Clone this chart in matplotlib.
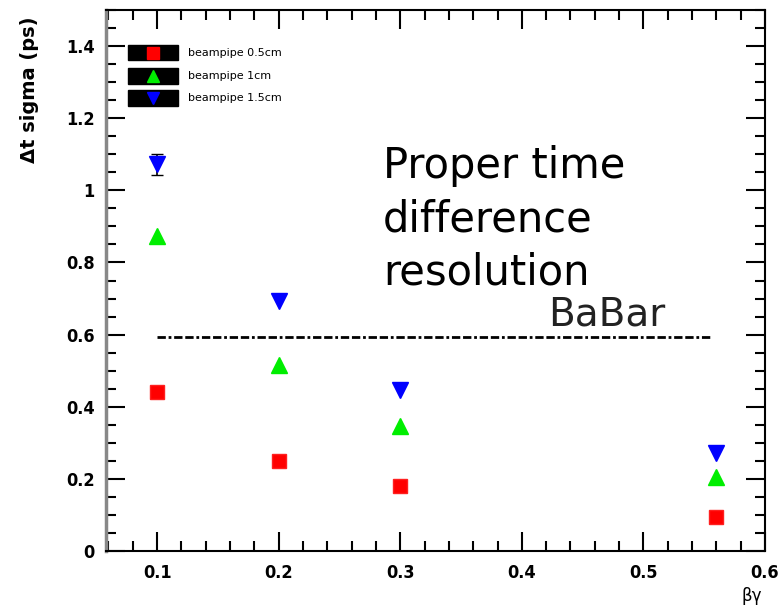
import numpy as np
import matplotlib
matplotlib.use("Agg")
import matplotlib.pyplot as plt
from matplotlib.ticker import MultipleLocator

# data
bg = [0.1, 0.2, 0.3, 0.56]
sig_05 = [0.442, 0.25, 0.18, 0.094]
sig_10 = [0.872, 0.517, 0.347, 0.205]
sig_15 = [1.072, 0.694, 0.447, 0.272]
err_15_lo = 0.03   # only the first point has a visible error bar
err_15_hi = 0.028
labels = ["beampipe 0.5cm", "beampipe 1cm", "beampipe 1.5cm"]
babar = 0.592
babar_x = [0.1, 0.556]

fig = plt.figure(figsize=(7.83, 6.09), dpi=100)
ax = fig.add_axes([106 / 783, 1 - 551 / 609, (765 - 106) / 783, (551 - 10) / 609])

ax.errorbar(bg[:1], sig_15[:1], yerr=[[err_15_lo], [err_15_hi]], fmt="none",
            ecolor="black", elinewidth=1.2, capsize=4, zorder=2)
ax.plot(bg, sig_05, "s", color="#ff0000", ms=10, mec="#ff2020", zorder=3)
ax.plot(bg, sig_10, "^", color="#00ee00", ms=11, zorder=3)
ax.plot(bg, sig_15, "v", color="#0000ff", ms=11, zorder=3)

ax.plot(babar_x, [babar, babar], color="black", lw=2, ls=(0, (3, 1, 1, 1, 3, 1)))

ax.set_xlim(0.058, 0.6)
ax.set_ylim(0, 1.5)
ax.xaxis.set_major_locator(MultipleLocator(0.1))
ax.xaxis.set_minor_locator(MultipleLocator(0.02))
ax.yaxis.set_major_locator(MultipleLocator(0.2))
ax.yaxis.set_minor_locator(MultipleLocator(0.05))
ax.tick_params(which="both", direction="in", top=True, right=True, width=1.5)
ax.tick_params(which="major", length=14)
ax.tick_params(which="minor", length=7)
ax.tick_params(axis="x", pad=9)
ax.tick_params(axis="y", pad=8)

tick_font = dict(family="DejaVu Sans", size=13, weight="bold", stretch="condensed")
ax.set_xticks([0.1, 0.2, 0.3, 0.4, 0.5, 0.6])
ax.set_xticklabels(["0.1", "0.2", "0.3", "0.4", "0.5", "0.6"], fontdict=tick_font)
ax.set_yticks([0, 0.2, 0.4, 0.6, 0.8, 1.0, 1.2, 1.4])
ax.set_yticklabels(["0", "0.2", "0.4", "0.6", "0.8", "1", "1.2", "1.4"], fontdict=tick_font)
for s in ax.spines.values():
    s.set_linewidth(1.5)
ax.spines["left"].set_color("#888888")
ax.spines["left"].set_linewidth(2.5)

fig.text(30 / 783, 1 - 90 / 609, "Δt sigma (ps)", rotation=90, ha="center", va="center",
         fontsize=14, fontweight="bold")
fig.text(752 / 783, 1 - 596 / 609, "βγ", ha="center", va="center", fontsize=12)

# legend boxes
leg_y = [1.382, 1.317, 1.256]
marks = [("s", "#ff0000"), ("^", "#00ee00"), ("v", "#0000ff")]
for yy, (m, c), lab in zip(leg_y, marks, labels):
    ax.add_patch(plt.Rectangle((0.0761, yy - 0.021), 0.0411, 0.042, color="black",
                               transform=ax.transData, zorder=4))
    ax.plot([0.0967], [yy], m, color=c, ms=9, zorder=5)
    ax.text(0.1254, yy, lab, fontsize=8, va="center", ha="left")

ax.text(0.286, 0.92, "Proper time\ndifference\nresolution", fontsize=30, va="center",
        ha="left", linespacing=1.35)
ax.text(0.4215, 0.656, "BaBar", fontsize=28, va="center", ha="left", color="#222222")

fig.savefig("out.png", dpi=100)
